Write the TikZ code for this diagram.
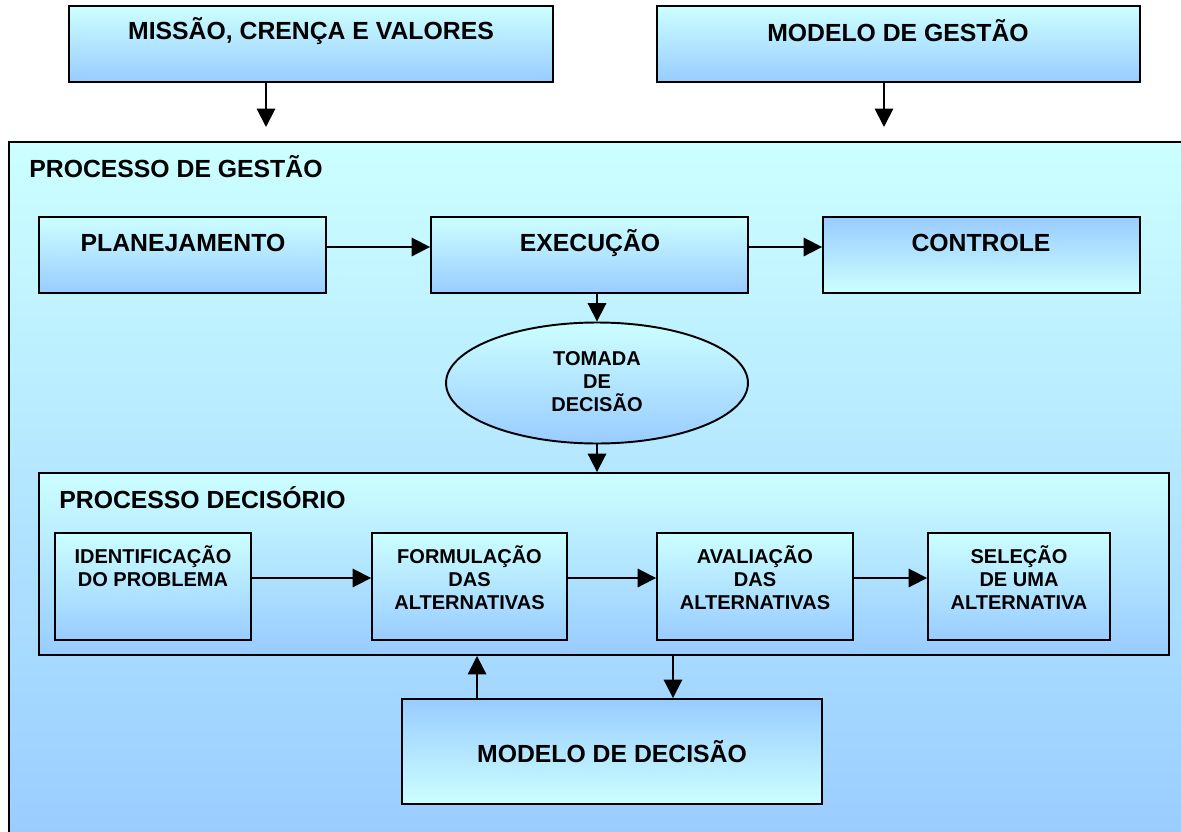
\documentclass[tikz,border=0pt]{standalone}
\usepackage{fontspec}
\setmainfont{Liberation Sans}
\usetikzlibrary{shapes.geometric,arrows.meta}

\definecolor{cyTop}{HTML}{CCFFFF}
\definecolor{blBot}{HTML}{99CCFF}

\begin{document}
\begin{tikzpicture}
[	x=0.02cm,y=-0.02cm,
	bx/.style={rectangle,draw,line width=1.1,inner sep=0,top color=cyTop,bottom color=blBot},
	bxr/.style={bx,top color=blBot,bottom color=cyTop},
	rd/.style={ellipse,draw,line width=1.1,inner sep=0,top color=cyTop,bottom color=blBot},
	ttl/.style={inner sep=0,font=\fontsize{14.1}{16}\selectfont\bfseries},
	sml/.style={inner sep=0,align=center,font=\fontsize{11.4}{13.1}\selectfont\bfseries},
	ar/.style={line width=1.1,-{Triangle[width=10.5pt,length=10.5pt]}}
]

\clip (0,0) rectangle (1181,832);
\useasboundingbox (0,0) rectangle (1181,832);

\node[bx,minimum width=9.68cm,minimum height=1.52cm] (missao) at (311,44) {};
\node[bx,minimum width=9.66cm,minimum height=1.52cm] (mgestao) at (898.5,44) {};
\node[ttl] (missao-t) at (311,31) {MISSÃO, CRENÇA E VALORES};
\node[ttl] (mgestao-t) at (898,31) {MODELO DE GESTÃO};

\node[bx,minimum width=23.72cm,minimum height=14.16cm] (gestao) at (602,496) {};
\node[ttl,anchor=west] (gestao-t) at (29,167) {PROCESSO DE GESTÃO};

\coordinate (a1) at (266,127);
\coordinate (a2) at (884,127);
\draw[ar] (missao.south -| a1) -- (a1);
\draw[ar] (mgestao.south -| a2) -- (a2);

\node[bx,minimum width=5.74cm,minimum height=1.52cm] (plan) at (182.5,255) {};
\node[bx,minimum width=6.34cm,minimum height=1.52cm] (exec) at (589.5,255) {};
\node[bxr,minimum width=6.34cm,minimum height=1.52cm] (ctrl) at (981.5,255) {};
\node[ttl] (plan-t) at (183,243) {PLANEJAMENTO};
\node[ttl] (exec-t) at (590,243) {EXECUÇÃO};
\node[ttl] (ctrl-t) at (981,243) {CONTROLE};

\draw[ar] ([yshift=0.16cm]plan.east) -- ([yshift=0.16cm]exec.west);
\draw[ar] ([yshift=0.16cm]exec.east) -- ([yshift=0.16cm]ctrl.west);

\node[rd,minimum width=6.04cm,minimum height=2.42cm] (tomada) at (597,383) {};
\node[sml] (tomada-t) at (597,382) {TOMADA\\DE\\DECISÃO};
\draw[ar] (exec.south -| tomada.north) -- (tomada.north);

\node[bx,minimum width=22.6cm,minimum height=3.64cm] (decis) at (604,564) {};
\node[ttl,anchor=west] (decis-t) at (59,498) {PROCESSO DECISÓRIO};
\draw[ar] (tomada.south) -- (tomada.south |- decis.north);

\node[bx,minimum width=3.92cm,minimum height=2.14cm] (ident) at (153,586.5) {};
\node[bx,minimum width=3.9cm,minimum height=2.14cm] (form) at (469.5,586.5) {};
\node[bx,minimum width=3.92cm,minimum height=2.14cm] (aval) at (755,586.5) {};
\node[bx,minimum width=3.64cm,minimum height=2.14cm] (selec) at (1019,586.5) {};
\node[sml] (ident-t) at (153,566.5) {IDENTIFICAÇÃO\\DO PROBLEMA};
\node[sml] (form-t) at (469.5,578) {FORMULAÇÃO\\DAS\\ALTERNATIVAS};
\node[sml] (aval-t) at (755,578) {AVALIAÇÃO\\DAS\\ALTERNATIVAS};
\node[sml] (selec-t) at (1019,578) {SELEÇÃO\\DE UMA\\ALTERNATIVA};

\draw[ar] ([yshift=0.17cm]ident.east) -- ([yshift=0.17cm]form.west);
\draw[ar] ([yshift=0.17cm]form.east) -- ([yshift=0.17cm]aval.west);
\draw[ar] ([yshift=0.17cm]aval.east) -- ([yshift=0.17cm]selec.west);

\node[bxr,minimum width=8.4cm,minimum height=2.1cm] (mdec) at (612,751.5) {};
\node[ttl] (mdec-t) at (612,752) {MODELO DE DECISÃO};

\draw[ar] ([xshift=-2.7cm]mdec.north) -- ([xshift=-2.7cm]mdec.north |- decis.south);
\draw[ar] ([xshift=1.22cm]mdec.north |- decis.south) -- ([xshift=1.22cm]mdec.north);

\end{tikzpicture}
\end{document}
